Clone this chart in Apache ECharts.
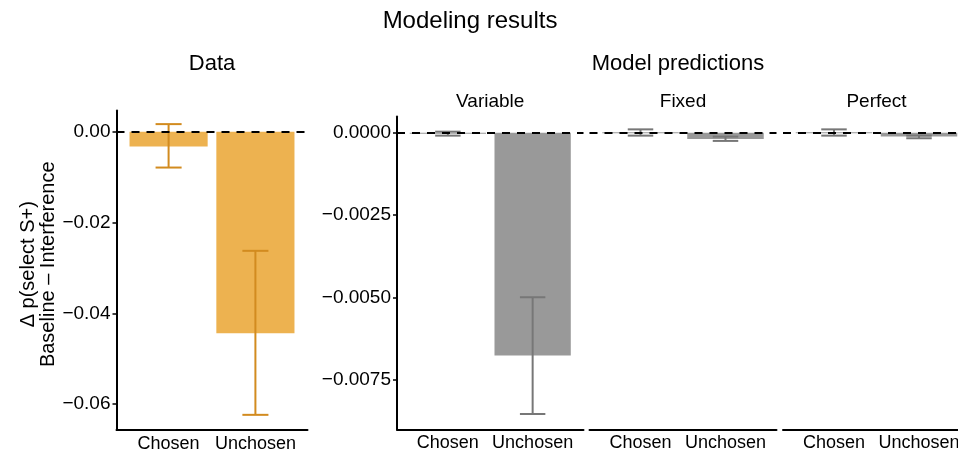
<!DOCTYPE html>
<html><head><meta charset="utf-8">
<script src="https://cdn.jsdelivr.net/npm/echarts@6/dist/echarts.min.js"></script>
<style>html,body{margin:0;padding:0;background:#fff}#c{width:958px;height:454px}</style>
</head><body><div id="c"></div>
<script>
// ---- data ----
const categories = ['Chosen', 'Unchosen'];
const catPos = [1, 2];

const dataMean = [-0.00324, -0.04436];
const dataLow  = [-0.00787, -0.06236];
const dataHigh = [0.0017, -0.02622];

const modelNames = ['Variable', 'Fixed', 'Perfect'];
const variableMean = [-0.00002, -0.00676];
const variableLow  = [-0.00009, -0.00853];
const variableHigh = [0.00003, -0.00499];
const fixedMean = [0.00001, -0.00019];
const fixedLow  = [-0.00009, -0.00025];
const fixedHigh = [0.00010, -0.00012];
const perfectMean = [0.00001, -0.00012];
const perfectLow  = [-0.00009, -0.00017];
const perfectHigh = [0.00010, -0.00009];

const dataTicks  = [0, -0.02, -0.04, -0.06];
const modelTicks = [0, -0.0025, -0.005, -0.0075];

// ---- styling / layout ----
const FONT = '"Liberation Sans", Arial, Helvetica, sans-serif';
const ORANGE = '#EDB250', ORANGE_DARK = '#D28B1F';
const GRAY = '#999999', GRAY_DARK = '#777777';

const grids = [
  {left: 116.5, top: 110.5, width: 191, height: 319.5},
  {left: 397, top: 116.5, width: 186.5, height: 313},
  {left: 589.5, top: 116.5, width: 187, height: 313},
  {left: 783, top: 116.5, width: 187, height: 313}
];
grids.forEach(g => { g.containLabel = false; g.outerBoundsMode = 'none'; });

const modelMeans = [variableMean, fixedMean, perfectMean];
const modelLows = [variableLow, fixedLow, perfectLow];
const modelHighs = [variableHigh, fixedHigh, perfectHigh];

function fmt(dec) {
  return v => (v < -1e-12 ? '\u2212' : '') + Math.abs(v).toFixed(dec);
}

function barRender(color) {
  return function (params, api) {
    const x = api.value(0), v = api.value(1);
    const a = api.coord([x - 0.45, 0]);
    const b = api.coord([x + 0.45, v]);
    let y0 = Math.min(a[1], b[1]);
    let h = Math.abs(b[1] - a[1]);
    if (h < 1) h = 1;
    return {type: 'rect', shape: {x: a[0], y: y0, width: b[0] - a[0], height: h}, style: {fill: color}};
  };
}
function errRender(color) {
  return function (params, api) {
    const x = api.value(0), lo = api.value(1), hi = api.value(2);
    const pl = api.coord([x, lo]), ph = api.coord([x, hi]);
    const l1 = api.coord([x - 0.15, lo]), r1 = api.coord([x + 0.15, lo]);
    const l2 = api.coord([x - 0.15, hi]), r2 = api.coord([x + 0.15, hi]);
    const st = {stroke: color, lineWidth: 2, fill: null};
    return {type: 'group', children: [
      {type: 'line', shape: {x1: pl[0], y1: pl[1], x2: ph[0], y2: ph[1]}, style: st},
      {type: 'line', shape: {x1: l1[0], y1: l1[1], x2: r1[0], y2: r1[1]}, style: st},
      {type: 'line', shape: {x1: l2[0], y1: l2[1], x2: r2[0], y2: r2[1]}, style: st}
    ]};
  };
}
const zeroLine = {
  silent: true, symbol: ['none', 'none'], label: {show: false},
  lineStyle: {color: '#000', type: [8, 7], width: 2},
  emphasis: {disabled: true},
  data: [{yAxis: 0}]
};

const xAxis = grids.map((g, i) => ({
  gridIndex: i, type: 'value', min: 0.4, max: 2.6,
  axisLine: {show: true, onZero: false, lineStyle: {color: '#000', width: 2}},
  axisTick: {show: false}, splitLine: {show: false},
  axisLabel: {customValues: catPos, formatter: v => categories[Math.round(v) - 1],
    color: '#000', fontSize: 18, fontFamily: FONT, margin: 5}
}));

const yAxis = [
  {gridIndex: 0, type: 'value', min: -0.0657, max: 0.0047,
   axisLine: {show: true, onZero: false, lineStyle: {color: '#000', width: 2}},
   axisTick: {show: true, customValues: dataTicks, length: 4, lineStyle: {color: '#000', width: 1.5}},
   axisLabel: {customValues: dataTicks, formatter: fmt(2), color: '#000', fontSize: 19, fontFamily: FONT, margin: 6},
   splitLine: {show: false},
   name: '\u0394 p(select S+)\nBaseline \u2013 Interference',
   nameLocation: 'middle', nameRotate: 90, nameGap: 57,
   nameTextStyle: {color: '#000', fontSize: 20, lineHeight: 20, fontFamily: FONT, align: 'center',
     padding: [0, 0, 0, 12]}}
];
for (let i = 1; i <= 3; i++) {
  yAxis.push({gridIndex: i, type: 'value', min: -0.0090, max: 0.00049,
    show: i === 1,
    axisLine: {show: true, onZero: false, lineStyle: {color: '#000', width: 2}},
    axisTick: {show: true, customValues: modelTicks, length: 4, lineStyle: {color: '#000', width: 1.5}},
    axisLabel: {customValues: modelTicks, formatter: fmt(4), color: '#000', fontSize: 19, fontFamily: FONT, margin: 6},
    splitLine: {show: false}});
}

const series = [
  {type: 'custom', xAxisIndex: 0, yAxisIndex: 0, renderItem: barRender(ORANGE),
   data: categories.map((c, k) => [catPos[k], dataMean[k]])},
  {type: 'custom', xAxisIndex: 0, yAxisIndex: 0, renderItem: errRender(ORANGE_DARK),
   data: categories.map((c, k) => [catPos[k], dataLow[k], dataHigh[k]]),
   markLine: zeroLine}
];
modelNames.forEach((m, j) => {
  series.push({type: 'custom', name: m, xAxisIndex: j + 1, yAxisIndex: j + 1, renderItem: barRender(GRAY),
    data: categories.map((c, k) => [catPos[k], modelMeans[j][k]])});
  series.push({type: 'custom', name: m, xAxisIndex: j + 1, yAxisIndex: j + 1, renderItem: errRender(GRAY_DARK),
    data: categories.map((c, k) => [catPos[k], modelLows[j][k], modelHighs[j][k]]),
    markLine: zeroLine});
});

function txt(text, x, y, size) {
  return {type: 'text', x: x, y: y, silent: true,
    style: {text: text, fontSize: size, fontFamily: FONT, fill: '#000',
      align: 'center', verticalAlign: 'middle', textAlign: 'center', textVerticalAlign: 'middle'}};
}
const graphic = [
  txt('Modeling results', 470, 21, 24),
  txt('Data', 212, 64, 22),
  txt('Model predictions', 678, 64, 22)
];
modelNames.forEach((m, j) => {
  const g = grids[j + 1];
  graphic.push(txt(m, g.left + g.width / 2, 102, 19));
});

const chart = echarts.init(document.getElementById('c'), null, {renderer: 'canvas'});
chart.setOption({
  animation: false,
  backgroundColor: '#fff',
  grid: grids, xAxis: xAxis, yAxis: yAxis, series: series, graphic: graphic
});
</script></body></html>
